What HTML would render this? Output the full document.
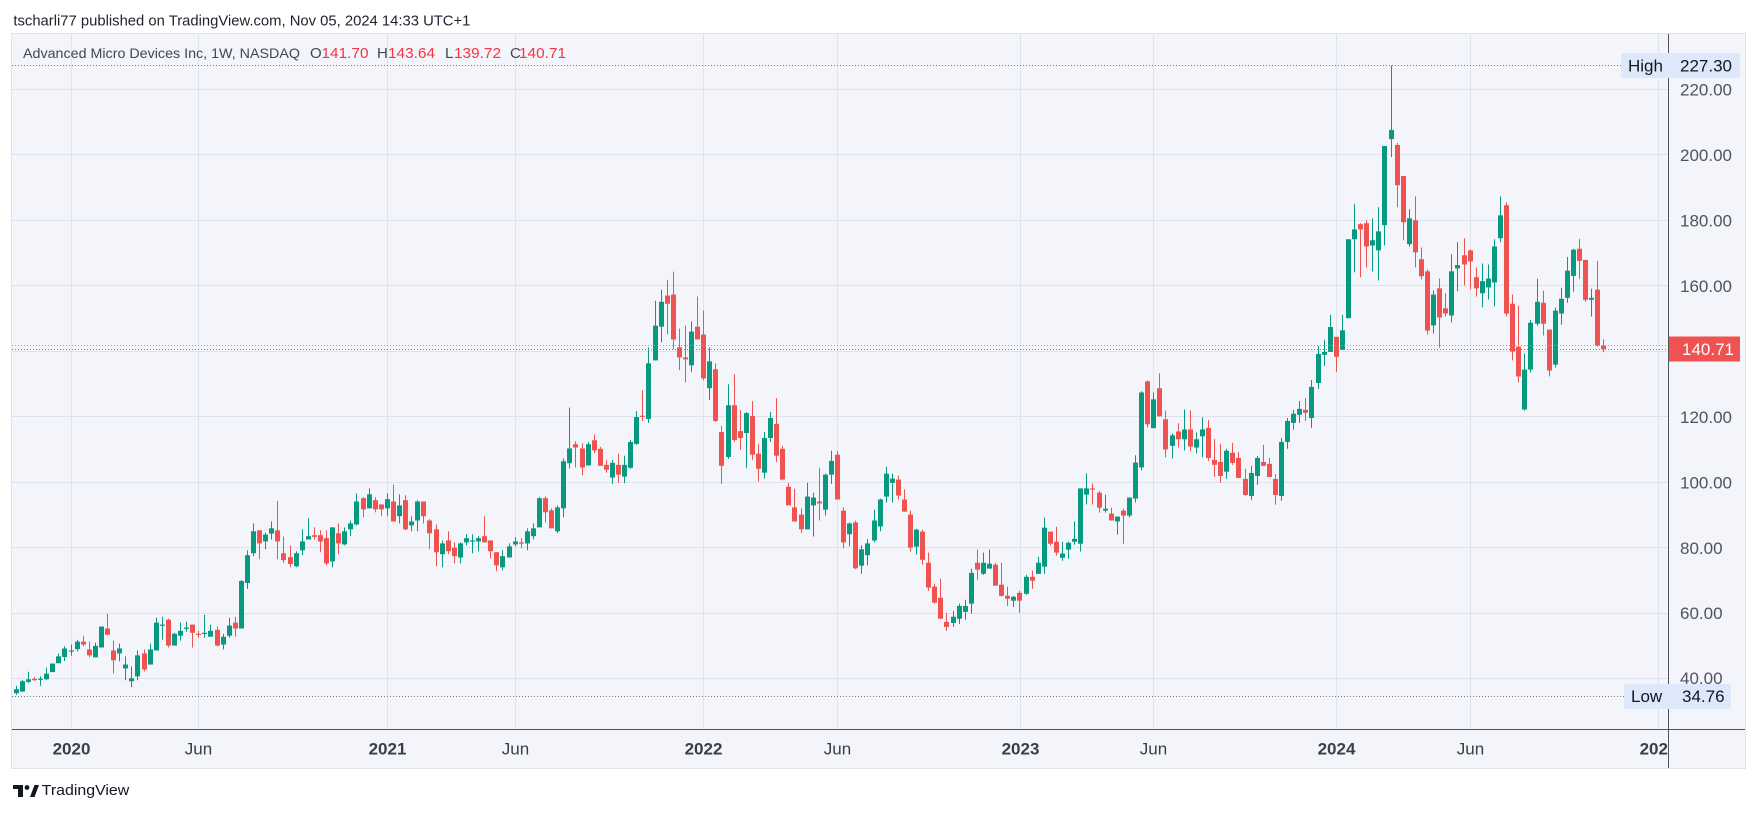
<!DOCTYPE html>
<html><head><meta charset="utf-8"><style>
html,body{margin:0;padding:0;background:#fff;}
svg{display:block}
</style></head><body>
<svg id="s" xmlns="http://www.w3.org/2000/svg" width="1758" height="813" viewBox="0 0 1758 813" font-family="'Liberation Sans', Arial, sans-serif">
<defs><clipPath id="tc"><rect x="12" y="730" width="1656" height="38"/></clipPath></defs>
<rect width="1758" height="813" fill="#ffffff"/>
<text x="13.4" y="25.5" font-size="15" fill="#1e222d" textLength="457" lengthAdjust="spacingAndGlyphs">tscharli77 published on TradingView.com, Nov 05, 2024 14:33 UTC+1</text>
<rect x="11.5" y="33.5" width="1734" height="735" fill="#f4f5fa" stroke="#e0e3eb"/>
<g stroke="#dfe2ef" stroke-width="1">
<line x1="12" x2="1668" y1="89.5" y2="89.5"/>
<line x1="12" x2="1668" y1="154.5" y2="154.5"/>
<line x1="12" x2="1668" y1="220.5" y2="220.5"/>
<line x1="12" x2="1668" y1="285.5" y2="285.5"/>
<line x1="12" x2="1668" y1="351.5" y2="351.5"/>
<line x1="12" x2="1668" y1="416.5" y2="416.5"/>
<line x1="12" x2="1668" y1="482.5" y2="482.5"/>
<line x1="12" x2="1668" y1="547.5" y2="547.5"/>
<line x1="12" x2="1668" y1="613.5" y2="613.5"/>
<line x1="12" x2="1668" y1="678.5" y2="678.5"/>
<line y1="34" y2="729" x1="71.5" x2="71.5"/>
<line y1="34" y2="729" x1="198.5" x2="198.5"/>
<line y1="34" y2="729" x1="387.5" x2="387.5"/>
<line y1="34" y2="729" x1="515.5" x2="515.5"/>
<line y1="34" y2="729" x1="703.5" x2="703.5"/>
<line y1="34" y2="729" x1="837.5" x2="837.5"/>
<line y1="34" y2="729" x1="1020.5" x2="1020.5"/>
<line y1="34" y2="729" x1="1153.5" x2="1153.5"/>
<line y1="34" y2="729" x1="1336.5" x2="1336.5"/>
<line y1="34" y2="729" x1="1470.5" x2="1470.5"/>
<line y1="34" y2="729" x1="1658.5" x2="1658.5"/>
</g>
<g id="c"></g>
<line x1="12" x2="1621" y1="65.5" y2="65.5" stroke="#787b86" stroke-width="1" stroke-dasharray="1 2"/>
<line x1="12" x2="1624" y1="696.5" y2="696.5" stroke="#787b86" stroke-width="1" stroke-dasharray="1 2"/>
<line x1="12" x2="1668" y1="345.5" y2="345.5" stroke="#ff9800" stroke-width="1" stroke-dasharray="1 2"/>
<line x1="12" x2="1668" y1="349.5" y2="349.5" stroke="#ef5350" stroke-width="1" stroke-dasharray="1 2"/>
<text x="23" y="58" font-size="14" fill="#434651" textLength="277" lengthAdjust="spacingAndGlyphs">Advanced Micro Devices Inc, 1W, NASDAQ</text>
<g font-size="15">
<text x="310" y="58" fill="#434651">O</text><text x="321.5" y="58" fill="#f23645" textLength="47" lengthAdjust="spacingAndGlyphs">141.70</text>
<text x="377" y="58" fill="#434651">H</text><text x="388" y="58" fill="#f23645" textLength="47" lengthAdjust="spacingAndGlyphs">143.64</text>
<text x="445" y="58" fill="#434651">L</text><text x="454" y="58" fill="#f23645" textLength="47" lengthAdjust="spacingAndGlyphs">139.72</text>
<text x="510" y="58" fill="#434651">C</text><text x="519" y="58" fill="#f23645" textLength="47" lengthAdjust="spacingAndGlyphs">140.71</text>
</g>
<line x1="1668.5" x2="1668.5" y1="34" y2="768" stroke="#50535e" stroke-width="1"/>
<line x1="12" x2="1745" y1="729.5" y2="729.5" stroke="#50535e" stroke-width="1"/>
<g font-size="17" fill="#50535e">
<text x="1680" y="95.5">220.00</text>
<text x="1680" y="160.9">200.00</text>
<text x="1680" y="226.4">180.00</text>
<text x="1680" y="291.8">160.00</text>
<text x="1680" y="422.8">120.00</text>
<text x="1680" y="488.3">100.00</text>
<text x="1680" y="553.8">80.00</text>
<text x="1680" y="619.2">60.00</text>
<text x="1680" y="684.2">40.00</text>
</g>
<rect x="1621" y="53" width="119" height="25" rx="2" fill="#dde8fa"/>
<text x="1628" y="71.5" font-size="17" fill="#131722">High</text>
<text x="1680" y="71.5" font-size="17" fill="#131722">227.30</text>
<rect x="1624" y="684" width="107" height="25" rx="2" fill="#dde8fa"/>
<text x="1631" y="702.2" font-size="17" fill="#131722">Low</text>
<text x="1682" y="702.2" font-size="17" fill="#131722">34.76</text>
<rect x="1669" y="336.5" width="71" height="25" fill="#f05252"/>
<text x="1682" y="355.2" font-size="17" fill="#ffffff">140.71</text>
<g font-size="17" fill="#3b3e48" text-anchor="middle" clip-path="url(#tc)">
<text x="71.5" y="754.5" font-weight="bold">2020</text>
<text x="198.5" y="754.5">Jun</text>
<text x="387.5" y="754.5" font-weight="bold">2021</text>
<text x="515.5" y="754.5">Jun</text>
<text x="703.5" y="754.5" font-weight="bold">2022</text>
<text x="837.5" y="754.5">Jun</text>
<text x="1020.5" y="754.5" font-weight="bold">2023</text>
<text x="1153.5" y="754.5">Jun</text>
<text x="1336.5" y="754.5" font-weight="bold">2024</text>
<text x="1470.5" y="754.5">Jun</text>
<text x="1658.5" y="754.5" font-weight="bold">2025</text>
</g>
<g fill="#131722">
<rect x="13" y="785" width="10" height="4"/>
<rect x="18" y="785" width="5" height="12"/>
<circle cx="27" cy="787.5" r="2.4"/>
<polygon points="30,797 34.5,785 39,785 34.5,797"/>
</g>
<text x="41.7" y="795" font-size="15" fill="#131722" textLength="87.6" lengthAdjust="spacingAndGlyphs">TradingView</text>
</svg>
<script>
var D=[
[35.56,37.8,35.05,36.77],[36.06,39.6,35.9,39.2],[39.0,42.1,38.6,39.8],[39.9,40.5,39.3,39.6],[39.7,40.7,37.8,40.0],
[39.8,43.4,39.6,41.5],[42.0,44.6,42.0,44.6],[44.7,47.7,44.7,46.8],[46.6,49.9,45.4,49.2],[48.4,50.4,47.0,48.6],
[49.0,51.8,48.3,51.3],[51.3,53.1,49.8,50.4],[48.9,51.3,46.5,47.1],[46.5,51.0,46.5,50.0],[49.5,55.9,49.5,55.9],
[55.3,59.8,53.4,53.4],[48.6,51.6,41.6,45.6],[47.7,50.7,45.3,49.2],[43.1,46.8,39.5,44.3],[39.2,43.7,37.4,40.1],
[40.7,48.6,39.5,47.1],[47.7,48.9,42.2,42.8],[44.3,50.7,44.3,48.9],[48.6,58.6,48.6,57.1],[56.2,58.9,51.9,56.5],
[58.0,58.3,49.5,50.1],[50.1,54.0,50.1,53.7],[53.1,57.1,51.6,54.6],[55.2,57.4,54.3,55.6],[56.5,56.5,49.5,54.0],
[53.7,54.6,52.5,53.4],[53.7,59.5,52.5,54.0],[52.8,56.5,52.8,54.6],[54.9,55.9,49.8,50.1],[50.4,53.7,48.9,52.8],
[53.1,58.6,52.5,56.2],[57.1,58.9,52.8,55.3],[55.3,70.1,55.3,69.8],[69.2,79.2,67.4,77.7],[78.3,87.4,77.4,85.0],
[85.3,85.3,76.5,81.3],[81.9,84.6,79.5,84.0],[84.3,88.0,82.5,85.9],[85.3,94.3,76.5,81.9],[78.3,83.4,75.3,76.2],
[77.1,80.7,74.0,75.0],[74.3,78.9,74.0,78.3],[79.2,85.6,77.7,81.9],[82.5,89.0,82.5,83.5],[83.8,86.2,82.5,83.3],
[83.8,85.3,78.6,81.9],[82.9,85.3,74.6,75.2],[75.8,86.2,74.0,86.2],[84.4,87.4,78.0,81.3],[81.0,86.2,80.7,85.0],
[85.6,88.3,83.5,87.4],[87.1,96.6,86.8,94.1],[95.1,95.4,89.3,91.7],[92.0,98.1,92.0,96.3],[94.5,95.4,90.8,91.7],
[93.2,93.2,89.6,91.7],[92.0,96.6,89.6,94.8],[94.1,99.3,88.0,88.0],[89.6,96.3,87.4,92.9],[94.5,96.0,85.3,85.6],
[86.8,89.6,85.0,88.0],[88.3,94.5,85.0,94.1],[94.1,94.1,87.4,89.6],[88.3,88.7,79.5,84.4],[85.6,87.1,74.3,78.6],
[78.0,82.2,74.0,81.3],[82.2,85.0,78.0,78.9],[80.0,81.6,75.2,77.4],[77.0,81.6,75.2,81.3],[81.6,84.1,80.7,82.9],
[81.9,84.1,78.3,82.2],[81.9,83.5,78.9,82.9],[83.5,89.6,81.6,81.6],[82.2,82.2,76.7,78.9],[78.6,78.6,72.8,74.6],
[74.0,79.2,73.1,77.4],[77.0,81.3,77.0,80.4],[81.0,83.2,80.4,81.9],[81.6,82.9,79.8,81.3],[81.3,85.9,79.2,85.0],
[83.5,87.4,82.5,85.9],[86.2,95.4,86.2,95.1],[95.1,95.7,87.7,90.8],[91.4,92.0,85.9,85.9],[85.0,92.9,84.4,92.3],
[92.0,107.3,89.3,106.4],[105.8,122.8,104.2,110.3],[111.6,112.5,104.5,110.6],[110.3,111.9,102.1,104.5],[105.1,112.2,105.1,111.6],
[112.8,114.6,108.8,109.7],[110.2,110.8,105.0,105.0],[105.3,106.8,102.9,103.8],[101.4,106.8,99.5,105.9],[105.3,108.7,99.8,102.3],
[101.7,108.1,99.7,105.3],[104.4,112.9,104.1,112.3],[111.7,121.7,111.4,119.9],[120.3,128.1,118.7,120.2],[119.3,141.2,118.1,136.3],
[137.2,155.4,137.2,147.8],[147.5,158.8,142.7,155.1],[157.0,161.8,145.1,154.5],[157.3,164.3,140.6,143.6],[141.2,146.9,134.2,138.1],
[138.1,147.8,130.5,137.5],[135.7,149.1,133.6,146.0],[147.5,156.7,143.6,143.6],[145.1,152.4,131.1,131.7],[128.7,141.2,125.1,136.9],
[134.5,136.3,118.4,118.7],[115.3,117.2,99.5,105.0],[107.7,129.9,107.1,123.5],[123.5,133.0,112.3,112.9],[115.6,122.0,109.9,113.5],
[115.0,121.4,104.4,121.1],[120.2,124.8,106.8,108.4],[108.7,111.7,100.2,104.1],[102.9,115.3,101.1,113.5],[113.5,121.4,112.3,119.6],
[117.8,125.7,106.2,108.1],[110.2,111.1,100.5,100.8],[98.6,99.8,92.9,92.9],[92.3,98.0,88.0,88.0],[90.1,92.0,84.4,85.6],
[85.6,99.8,85.6,95.6],[92.9,96.8,83.4,95.3],[94.1,104.4,88.3,93.5],[91.6,102.6,89.8,102.3],[102.3,109.6,99.5,106.5],
[108.4,109.6,94.7,94.7],[91.3,92.3,79.8,81.6],[84.1,87.7,80.4,87.4],[87.7,88.3,73.4,73.7],[74.5,80.7,72.0,79.5],
[77.7,82.6,74.6,81.3],[82.2,91.6,81.6,88.3],[86.5,95.0,85.0,94.7],[95.6,104.7,93.8,102.6],[99.8,102.6,93.8,101.1],
[100.8,102.0,94.7,95.9],[94.7,97.8,91.0,91.0],[90.1,91.3,78.8,80.0],[80.3,85.8,77.9,85.5],[84.9,85.5,74.8,76.3],
[75.4,78.5,66.8,67.8],[68.1,69.0,62.9,63.2],[64.7,70.5,58.3,58.3],[57.3,60.1,54.6,55.8],[57.0,60.7,55.8,58.9],
[58.3,62.9,56.7,62.2],[60.4,64.1,58.0,62.2],[62.9,73.6,59.8,72.3],[75.4,79.4,70.2,73.3],[72.0,78.5,71.7,75.4],
[73.6,79.4,73.6,75.1],[74.8,75.4,68.4,68.4],[68.7,75.4,65.0,65.3],[65.3,68.1,62.2,64.4],[63.8,65.3,61.9,65.0],
[66.2,66.8,60.1,63.8],[65.9,71.7,65.6,71.1],[71.1,73.0,67.4,69.9],[72.0,77.2,72.0,75.4],[74.2,89.2,72.0,86.1],
[84.9,84.9,80.6,81.2],[81.8,86.4,77.6,78.5],[76.9,81.8,76.0,78.2],[79.4,81.8,76.6,81.5],[81.8,88.0,80.9,82.7],
[81.2,98.1,78.8,98.1],[96.2,102.7,93.2,98.1],[98.1,99.6,93.2,97.8],[96.8,97.4,90.7,92.2],[91.3,96.2,90.7,91.9],
[90.4,92.2,88.3,88.3],[88.0,89.5,84.0,89.5],[91.3,91.9,81.2,89.8],[89.8,95.3,89.2,95.3],[95.0,108.2,93.8,106.0],
[104.5,127.8,103.6,127.4],[130.8,131.1,116.7,117.7],[116.5,127.4,116.5,125.3],[128.7,133.3,120.1,120.1],[119.2,121.9,107.6,110.0],
[111.1,114.9,107.2,114.3],[115.5,118.0,110.6,113.1],[113.1,122.2,109.7,116.1],[116.1,121.9,109.4,110.9],[110.6,115.2,108.8,113.1],
[114.0,119.8,107.6,116.1],[116.6,119.0,106.5,107.4],[106.8,113.2,101.6,105.3],[106.2,111.7,99.8,101.9],[103.2,110.2,101.0,109.6],
[109.0,112.0,105.3,105.9],[107.4,109.3,101.3,101.3],[101.0,104.1,95.8,96.1],[95.8,105.0,94.6,102.8],[101.9,108.0,99.2,107.4],
[106.2,111.4,105.0,105.0],[105.6,107.4,101.6,101.6],[101.0,102.5,93.1,96.1],[95.8,113.5,94.3,112.3],[112.3,119.6,110.2,118.7],
[118.1,122.1,116.0,120.9],[120.6,124.8,118.1,122.4],[122.1,125.7,118.7,121.2],[119.6,131.2,116.6,129.1],[130.3,141.6,128.5,139.2],
[138.9,143.5,135.5,139.8],[139.8,151.1,139.8,147.4],[144.4,144.4,133.7,138.3],[140.4,151.1,140.4,146.4],[150.1,174.2,150.1,174.2],
[174.2,184.9,164.1,177.2],[178.8,179.1,162.6,177.2],[179.1,180.0,165.6,172.0],[172.3,180.6,164.4,173.9],[170.8,184.0,161.6,176.6],
[178.5,202.7,172.3,202.7],[204.8,227.3,199.3,207.6],[203.0,203.6,184.0,190.7],[193.5,193.5,173.9,179.4],[172.7,183.4,172.0,180.6],
[180.0,187.3,165.6,170.2],[168.1,171.7,161.9,162.9],[164.4,165.0,145.1,146.3],[147.9,158.6,145.4,157.3],[159.2,162.2,141.1,150.3],
[153.1,157.7,150.6,151.5],[150.9,169.6,148.8,164.4],[165.3,173.3,158.3,166.3],[169.3,174.5,160.1,166.5],[170.8,171.1,158.9,167.4],
[162.6,165.6,156.7,159.2],[157.7,166.8,153.4,161.4],[159.5,166.5,155.8,162.2],[161.0,174.2,153.7,172.0],[174.5,187.3,173.3,181.5],
[184.6,185.5,150.6,151.5],[154.5,157.3,137.2,139.9],[141.4,153.9,130.5,132.3],[122.2,139.3,121.9,134.4],[134.4,149.6,133.5,148.7],
[148.4,162.1,147.8,155.1],[154.8,158.5,144.8,148.4],[146.6,146.6,132.3,134.1],[135.9,153.3,135.0,152.4],[151.5,159.4,148.1,156.0],
[156.3,168.8,154.8,164.6],[163.0,171.3,158.2,171.0],[171.3,174.3,162.1,167.6],[167.9,167.9,155.1,155.7],[155.7,159.1,150.6,156.3],
[158.8,167.6,141.4,141.7],[141.7,143.64,139.72,140.71]
];
(function(){
var NS="http://www.w3.org/2000/svg";
var g=document.getElementById("c");
function Y(p){return 89.3+(220-p)*3.274;}
function r(x,y,w,h,f){var e=document.createElementNS(NS,"rect");e.setAttribute("x",x);e.setAttribute("y",y.toFixed(2));e.setAttribute("width",w);e.setAttribute("height",h.toFixed(2));e.setAttribute("fill",f);g.appendChild(e);}
for(var k=0;k<D.length;k++){
var o=D[k][0],h=D[k][1],l=D[k][2],c=D[k][3];
var x=16.3+6.083*k;
var col=c>=o?"#089981":"#ef5350";
var hi=Math.max(h,o,c),lo=Math.min(l,o,c);
var bx=Math.round(x-2.5);
r(bx+2,Y(hi),1,Math.max(1,Y(lo)-Y(hi)),col);
var yt=Y(Math.max(o,c)),yb=Y(Math.min(o,c));
r(bx,yt,5,Math.max(1.2,yb-yt),col);
}
})();
</script>
</body></html>
